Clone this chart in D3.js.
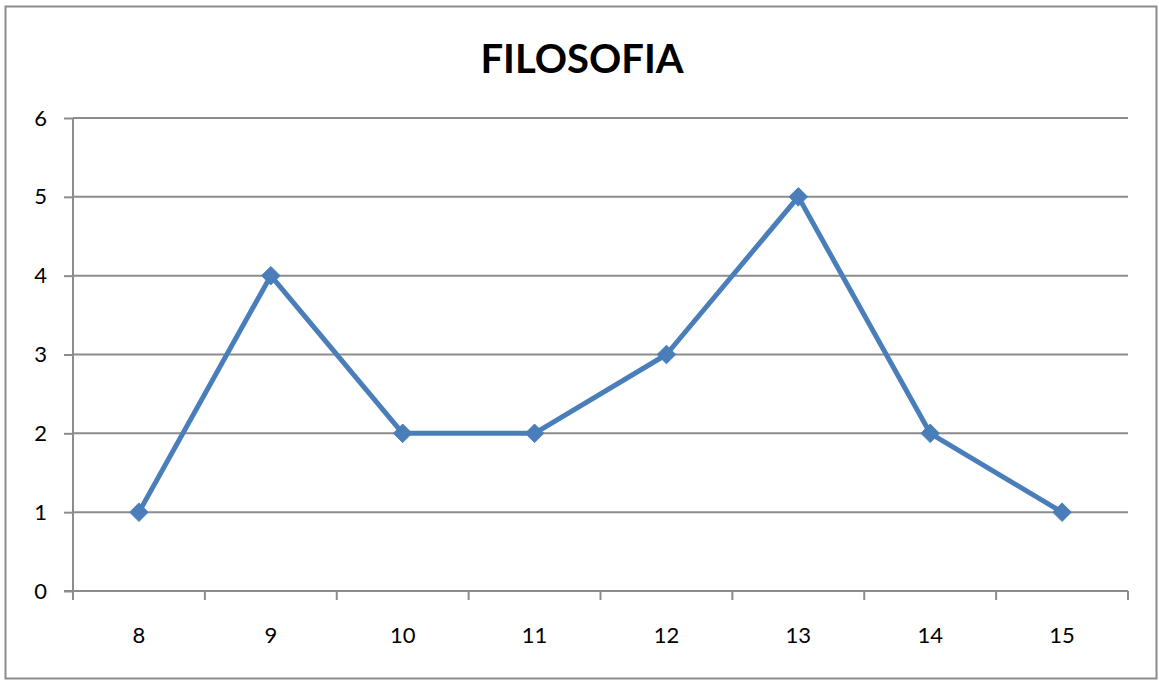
<!DOCTYPE html>
<html>
<head>
<meta charset="utf-8">
<script src="https://cdn.jsdelivr.net/npm/d3@7"></script>
<style>
  body { margin: 0; background: #fff; }
  svg { display: block; }
</style>
</head>
<body>
<div id="chart"></div>
<script>
// chart data
const categories = ["8", "9", "10", "11", "12", "13", "14", "15"];
const values = [1, 4, 2, 2, 3, 5, 2, 1];
const yTicks = [0, 1, 2, 3, 4, 5, 6];
const title = "FILOSOFIA";

const W = 1159, H = 682;
const margin = { top: 118, right: 31, bottom: 91, left: 73 };
const width = W - margin.left - margin.right;
const height = H - margin.top - margin.bottom;
const font = "Lato, 'Open Sans', sans-serif";

const svg = d3.select("#chart").append("svg")
  .attr("width", W)
  .attr("height", H);

// outer frame
svg.append("rect")
  .attr("x", 5.5).attr("y", 6.5)
  .attr("width", 1151).attr("height", 672)
  .attr("fill", "#fff")
  .attr("stroke", "#8c8c8c")
  .attr("stroke-width", 2);

svg.append("text")
  .attr("x", 582).attr("y", 73)
  .attr("text-anchor", "middle")
  .attr("font-family", font)
  .attr("font-weight", "bold")
  .attr("font-size", 40)
  .attr("fill", "#000")
  .text(title);

const g = svg.append("g")
  .attr("transform", `translate(${margin.left},${margin.top})`);

const x = d3.scaleBand()
  .domain(categories)
  .range([0, width]);

const y = d3.scaleLinear()
  .domain([0, 6])
  .range([height, 0]);

// gridlines
g.append("g")
  .selectAll("line")
  .data(yTicks.filter(d => d > 0))
  .enter().append("line")
  .attr("x1", 0).attr("x2", width)
  .attr("y1", d => y(d)).attr("y2", d => y(d))
  .attr("stroke", "#8c8c8c")
  .attr("stroke-width", 2);

// y axis
const yAxis = g.append("g")
  .call(d3.axisLeft(y).tickValues(yTicks).tickSize(9).tickPadding(17).tickFormat(d3.format("d")));
yAxis.select(".domain").attr("stroke", "#8c8c8c").attr("stroke-width", 2).attr("d", `M0,0V${height}`);
yAxis.selectAll(".tick line").attr("stroke", "#8c8c8c").attr("stroke-width", 2);
yAxis.selectAll("text")
  .attr("font-family", font)
  .attr("font-size", 22)
  .attr("fill", "#000");

// x axis with ticks at band edges
const xAxis = g.append("g")
  .attr("transform", `translate(0,${height})`);
xAxis.append("line")
  .attr("x1", -9).attr("x2", width)
  .attr("stroke", "#8c8c8c").attr("stroke-width", 2);
xAxis.selectAll(".edge")
  .data(categories.map(c => x(c)).concat([width]))
  .enter().append("line")
  .attr("class", "edge")
  .attr("x1", d => d).attr("x2", d => d)
  .attr("y1", 0).attr("y2", 9)
  .attr("stroke", "#8c8c8c").attr("stroke-width", 2);
xAxis.selectAll(".lbl")
  .data(categories)
  .enter().append("text")
  .attr("class", "lbl")
  .attr("x", d => x(d) + x.bandwidth() / 2)
  .attr("y", 52)
  .attr("text-anchor", "middle")
  .attr("font-family", font)
  .attr("font-size", 22)
  .attr("fill", "#000")
  .text(d => d);

const color = "#4a7ebb";
const cx = (d, i) => x(categories[i]) + x.bandwidth() / 2;

const line = d3.line()
  .x((d, i) => cx(d, i))
  .y(d => y(d));

g.append("path")
  .datum(values)
  .attr("fill", "none")
  .attr("stroke", color)
  .attr("stroke-width", 5)
  .attr("stroke-linejoin", "round")
  .attr("d", line);

g.selectAll(".marker")
  .data(values)
  .enter().append("path")
  .attr("class", "marker")
  .attr("d", d3.symbol().type(d3.symbolDiamond2).size(220))
  .attr("transform", (d, i) => `translate(${cx(d, i)},${y(d)})`)
  .attr("fill", color)
  .attr("stroke", color)
  .attr("stroke-width", 1);
</script>
</body>
</html>
